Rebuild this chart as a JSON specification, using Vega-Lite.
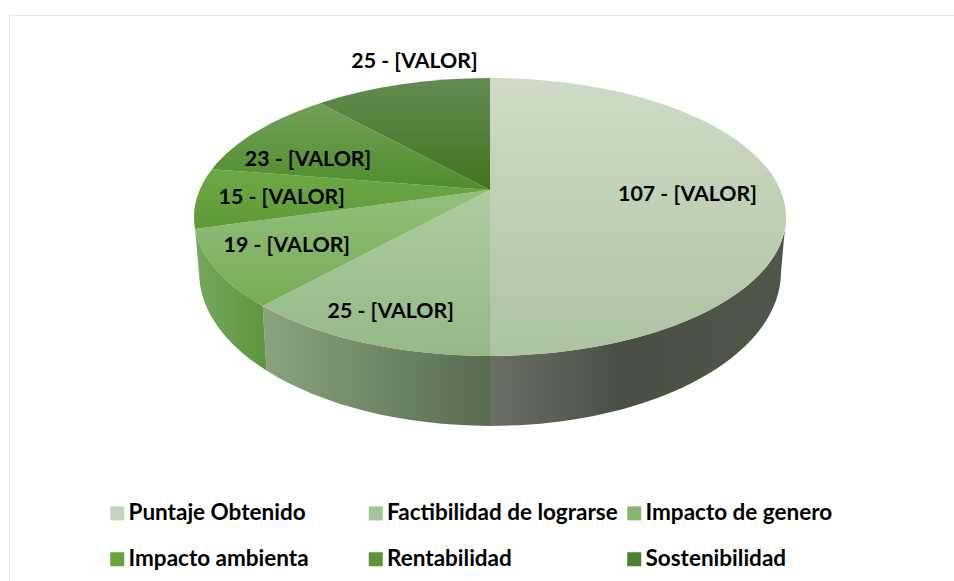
{
  "$schema": "https://vega.github.io/schema/vega-lite/v6.json",
  "width": 954,
  "height": 581,
  "padding": 0,
  "autosize": {"type": "none"},
  "background": "white",
  "view": {"stroke": null},
  "params": [
    {"name": "caraSuperior", "value": {
      "Puntaje Obtenido": {"gradient": "linear", "x1": 0, "y1": 0, "x2": 0, "y2": 1, "stops": [{"offset": 0, "color": "#cedcc7"}, {"offset": 1, "color": "#adc3a1"}]},
      "Factibilidad de lograrse": {"gradient": "linear", "x1": 0, "y1": 0, "x2": 0, "y2": 1, "stops": [{"offset": 0, "color": "#aecca0"}, {"offset": 1, "color": "#95b887"}]},
      "Impacto de genero": {"gradient": "linear", "x1": 0, "y1": 0, "x2": 0, "y2": 1, "stops": [{"offset": 0, "color": "#93bf7d"}, {"offset": 1, "color": "#75ad55"}]},
      "Impacto ambienta": {"gradient": "linear", "x1": 0, "y1": 0, "x2": 0, "y2": 1, "stops": [{"offset": 0, "color": "#6daa45"}, {"offset": 1, "color": "#5d9a36"}]},
      "Rentabilidad": {"gradient": "linear", "x1": 0, "y1": 0, "x2": 0, "y2": 1, "stops": [{"offset": 0, "color": "#73a05a"}, {"offset": 1, "color": "#4e8e2a"}]},
      "Sostenibilidad": {"gradient": "linear", "x1": 0, "y1": 0, "x2": 0, "y2": 1, "stops": [{"offset": 0, "color": "#648a52"}, {"offset": 1, "color": "#41751f"}]}
    }},
    {"name": "caraLateral", "value": {
      "Puntaje Obtenido": {"gradient": "linear", "x1": 0, "y1": 0, "x2": 1, "y2": 0, "stops": [{"offset": 0, "color": "#6b6f63"}, {"offset": 0.45, "color": "#4a4f44"}, {"offset": 1, "color": "#50574a"}]},
      "Factibilidad de lograrse": {"gradient": "linear", "x1": 0, "y1": 0, "x2": 1, "y2": 0, "stops": [{"offset": 0, "color": "#8aa37e"}, {"offset": 1, "color": "#596b50"}]},
      "Impacto de genero": {"gradient": "linear", "x1": 0, "y1": 0, "x2": 1, "y2": 0, "stops": [{"offset": 0, "color": "#76a75e"}, {"offset": 1, "color": "#5c963e"}]},
      "Impacto ambienta": {"gradient": "linear", "x1": 0, "y1": 0, "x2": 1, "y2": 0, "stops": [{"offset": 0, "color": "#5f9a3f"}, {"offset": 1, "color": "#5f9a3f"}]}
    }},
    {"name": "ajusteEtiqueta", "value": {
      "Puntaje Obtenido": [0.68, 0, 3],
      "Factibilidad de lograrse": [0.78, 0, 2],
      "Impacto de genero": [0.74, 0, -4],
      "Impacto ambienta": [0.71, 0, 1],
      "Rentabilidad": [0.78, 0, 14],
      "Sostenibilidad": [1.23, 33, 0]
    }}
  ],
  "data": {"values": [
    {"nombre": "Puntaje Obtenido", "valor": 107},
    {"nombre": "Factibilidad de lograrse", "valor": 25},
    {"nombre": "Impacto de genero", "valor": 19},
    {"nombre": "Impacto ambienta", "valor": 15},
    {"nombre": "Rentabilidad", "valor": 23},
    {"nombre": "Sostenibilidad", "valor": 25}
  ]},
  "transform": [
    {"joinaggregate": [{"op": "sum", "field": "valor", "as": "total"}]},
    {"window": [{"op": "sum", "field": "valor", "as": "acum"}]},
    {"calculate": "2*PI*(datum.acum-datum.valor)/datum.total", "as": "a1"},
    {"calculate": "2*PI*datum.acum/datum.total", "as": "a2"},
    {"calculate": "(datum.a1+datum.a2)/2", "as": "am"},
    {"calculate": "max(datum.a1,1.766)", "as": "w1"},
    {"calculate": "min(datum.a2,4.517)", "as": "w2"},
    {"calculate": "round(2904*sin(datum.a1)/(1+0.194*cos(datum.a1)))/10", "as": "x1"},
    {"calculate": "round(-1337*cos(datum.a1)/(1+0.194*cos(datum.a1)))/10", "as": "y1"},
    {"calculate": "round(2904*sin(datum.a2)/(1+0.194*cos(datum.a2)))/10", "as": "x2"},
    {"calculate": "round(-1337*cos(datum.a2)/(1+0.194*cos(datum.a2)))/10", "as": "y2"},
    {"calculate": "round(2904*sin(datum.am)/(1+0.194*cos(datum.am)))/10", "as": "xm"},
    {"calculate": "round(-1337*cos(datum.am)/(1+0.194*cos(datum.am)))/10", "as": "ym"},
    {"calculate": "round(2904*sin(datum.w1)/(1+0.194*cos(datum.w1)))/10", "as": "wx1"},
    {"calculate": "round(-1337*cos(datum.w1)/(1+0.194*cos(datum.w1)))/10", "as": "wy1"},
    {"calculate": "round(2904*sin(datum.w2)/(1+0.194*cos(datum.w2)))/10", "as": "wx2"},
    {"calculate": "round(-1337*cos(datum.w2)/(1+0.194*cos(datum.w2)))/10", "as": "wy2"},
    {"calculate": "round(10*datum.wx1*291/296)/10", "as": "bx1"},
    {"calculate": "round(10*(82+(datum.wy1-27)*154/139))/10", "as": "by1"},
    {"calculate": "round(10*datum.wx2*291/296)/10", "as": "bx2"},
    {"calculate": "round(10*(82+(datum.wy2-27)*154/139))/10", "as": "by2"},
    {"calculate": "'M0,0L'+datum.x1+','+datum.y1+'A296,139,0,0,1,'+datum.xm+','+datum.ym+'A296,139,0,0,1,'+datum.x2+','+datum.y2+'Z'", "as": "cuna"},
    {"calculate": "'M'+datum.wx1+','+datum.wy1+'A296,139,0,0,1,'+datum.wx2+','+datum.wy2+'L'+datum.bx2+','+datum.by2+'A291,154,0,0,0,'+datum.bx1+','+datum.by1+'Z'", "as": "pared"},
    {"calculate": "ajusteEtiqueta[datum.nombre]", "as": "aj"},
    {"calculate": "290.4*sin(datum.am)/(1+0.194*cos(datum.am))*datum.aj[0]+datum.aj[1]", "as": "lx"},
    {"calculate": "-133.7*cos(datum.am)/(1+0.194*cos(datum.am))*datum.aj[0]+datum.aj[2]", "as": "ly"},
    {"calculate": "datum.valor+' - [VALOR]'", "as": "etiqueta"}
  ],
  "layer": [
    {
      "mark": {"type": "rule", "color": "#e6e8ec", "strokeWidth": 1},
      "encoding": {
        "x": {"datum": -480.5, "type": "quantitative", "scale": {"domain": [-490, 464], "range": [0, 954], "nice": false, "zero": false}, "axis": null},
        "y": {"datum": -174.5, "type": "quantitative", "scale": {"domain": [-190, 391], "range": [0, 581], "nice": false, "zero": false}, "axis": null},
        "y2": {"datum": 391}
      }
    },
    {
      "mark": {"type": "rule", "color": "#e6e8ec", "strokeWidth": 1},
      "encoding": {
        "x": {"datum": -480.5, "type": "quantitative", "axis": null},
        "x2": {"datum": 464},
        "y": {"datum": -174.5, "type": "quantitative", "axis": null}
      }
    },
    {
      "transform": [{"filter": "datum.w2 > datum.w1"}],
      "mark": {"type": "point", "filled": true, "size": 4, "opacity": 1, "strokeWidth": 0, "fill": {"expr": "caraLateral[datum.nombre]"}},
      "encoding": {
        "x": {"datum": 0, "type": "quantitative", "axis": null},
        "y": {"datum": 0, "type": "quantitative", "axis": null},
        "shape": {"field": "pared", "type": "nominal", "scale": null, "legend": null}
      }
    },
    {
      "mark": {"type": "point", "filled": true, "size": 4, "opacity": 1, "strokeWidth": 0, "fill": {"expr": "caraSuperior[datum.nombre]"}},
      "encoding": {
        "x": {"datum": 0, "type": "quantitative", "axis": null},
        "y": {"datum": 0, "type": "quantitative", "axis": null},
        "shape": {"field": "cuna", "type": "nominal", "scale": null, "legend": null}
      }
    },
    {
      "mark": {"type": "point", "filled": true, "size": 1, "opacity": 0},
      "encoding": {
        "x": {"datum": 0, "type": "quantitative", "axis": null},
        "y": {"datum": 0, "type": "quantitative", "axis": null},
        "color": {
          "field": "nombre", "type": "nominal", "sort": null,
          "scale": {"range": ["#c3d5bb", "#a5c498", "#86b66e", "#66a53c", "#5c9438", "#4e8030"]},
          "legend": {
            "title": null, "orient": "none", "legendX": 106, "legendY": 502, "direction": "horizontal",
            "columns": 3, "gridAlign": "all", "columnPadding": 4.5, "rowPadding": 23,
            "symbolType": "square", "symbolSize": 196, "symbolOpacity": 1, "symbolStrokeWidth": 0,
            "labelFont": "Lato", "labelFontSize": 22.5, "labelFontWeight": "bold", "labelColor": "#000000", "labelLimit": 400, "labelOffset": 0,
            "encode": {"symbols": {"update": {"fill": {"signal": "caraSuperior[datum.value]"}, "opacity": {"value": 1}}}}
          }
        }
      }
    },
    {
      "mark": {"type": "text", "font": "Lato", "fontSize": 21.3, "fontWeight": "bold", "color": "#000000", "align": "center", "baseline": "middle", "dy": 1.5},
      "encoding": {
        "x": {"field": "lx", "type": "quantitative", "axis": null},
        "y": {"field": "ly", "type": "quantitative", "axis": null},
        "text": {"field": "etiqueta", "type": "nominal"}
      }
    }
  ]
}
